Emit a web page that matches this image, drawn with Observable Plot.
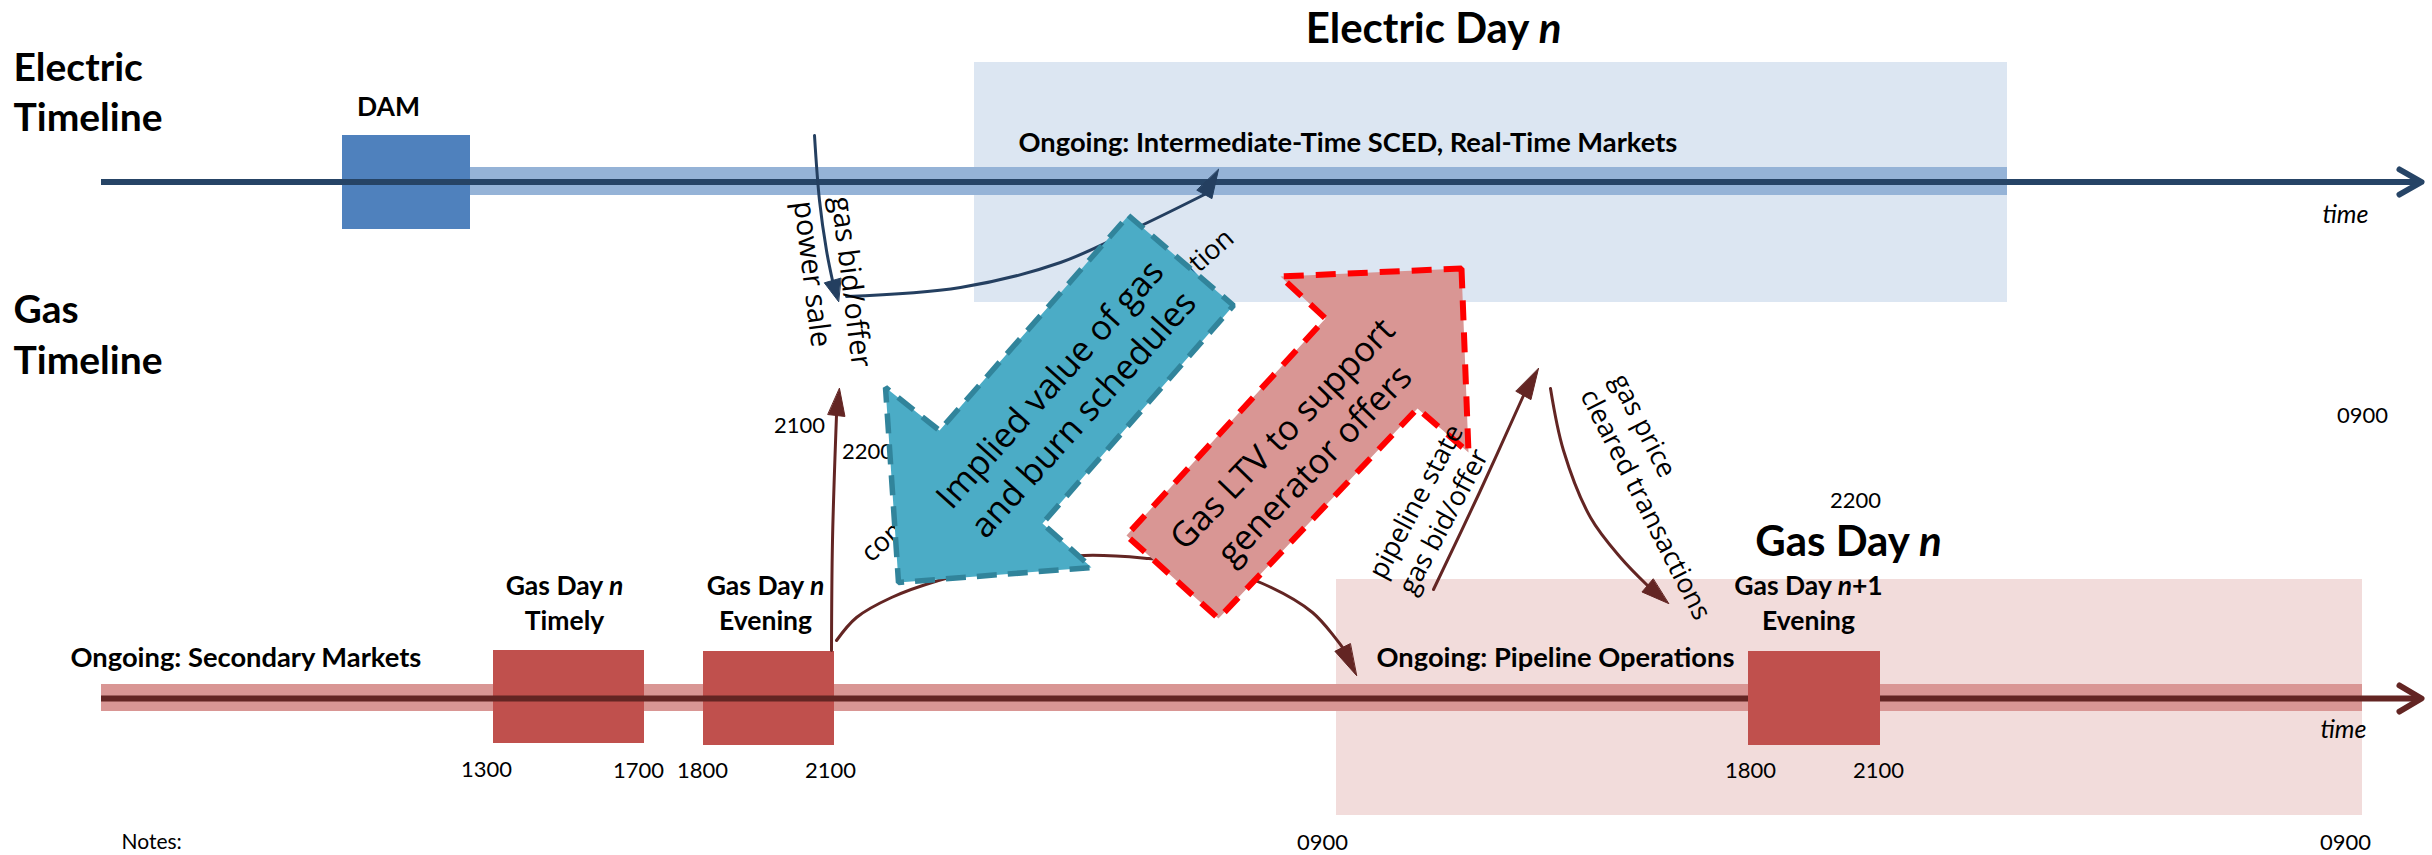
<!DOCTYPE html>
<html><head><meta charset="utf-8">
<script src="https://cdn.jsdelivr.net/npm/d3@7"></script>
<script src="https://cdn.jsdelivr.net/npm/@observablehq/plot@0.6"></script>
<style>html,body{margin:0;padding:0;background:#fff;} #chart svg{display:block}</style>
</head><body><div id="chart"></div>
<script>
// ---- data (diagram units) ----
const dayPanels = [
  {day: "electric", x1: 974, x2: 2007, y1: 62, y2: 302},
  {day: "gas", x1: 1336, x2: 2362, y1: 579, y2: 815}
];
const ongoingBands = [
  {day: "electric", x1: 470, x2: 2007, y1: 167, y2: 195},
  {day: "gas", x1: 101, x2: 2362, y1: 684, y2: 711}
];
const timelineRuns = [
  {day: "electric", x1: 101, x2: 2417, y: 181.5},
  {day: "gas", x1: 101, x2: 2417, y: 698}
];
const timelineHeads = [
  {day: "electric", x: 2399, y: 169}, {day: "electric", x: 2421, y: 181.5}, {day: "electric", x: 2399, y: 194},
  {day: "gas", x: 2399, y: 685}, {day: "gas", x: 2421, y: 698}, {day: "gas", x: 2399, y: 711}
];
const marketWindows = [
  {name: "DAM", day: "electric", x1: 342, x2: 470, y1: 135, y2: 229},
  {name: "Gas Day n Timely", day: "gas", x1: 493, x2: 644, y1: 650, y2: 743},
  {name: "Gas Day n Evening", day: "gas", x1: 703, x2: 834, y1: 651, y2: 745}
];
const nextDayWindows = [
  {name: "Gas Day n+1 Evening", day: "gas", x1: 1748, x2: 1880, y1: 651, y2: 745}
];
const sideTitles = [
  {text: "Electric", x: 13, y: 80}, {text: "Timeline", x: 13, y: 130},
  {text: "Gas", x: 13, y: 322}, {text: "Timeline", x: 13, y: 373}
];
const dayTitles = [
  {text: "Electric Day _n_", x: 1433, y: 42},
  {text: "Gas Day _n_", x: 1848, y: 555}
];
const windowLabels = [
  {text: "DAM", x: 388, y: 115},
  {text: "Gas Day _n_\nTimely", x: 564, y: 629},
  {text: "Gas Day _n_\nEvening", x: 765, y: 629},
  {text: "Gas Day _n_+1\nEvening", x: 1808, y: 629}
];
const ongoingLabels = [
  {text: "Ongoing: Intermediate-Time SCED, Real-Time Markets", x: 1018, y: 151},
  {text: "Ongoing: Secondary Markets", x: 70, y: 666},
  {text: "Ongoing: Pipeline Operations", x: 1376, y: 666}
];
const hourTicks = [
  {text: "1300", x: 486, y: 776}, {text: "1700", x: 638, y: 777},
  {text: "1800", x: 702, y: 777}, {text: "2100", x: 830, y: 777},
  {text: "1800", x: 1750, y: 777}, {text: "2100", x: 1878, y: 777},
  {text: "2100", x: 799, y: 432}, {text: "2200", x: 867, y: 458},
  {text: "2200", x: 1855, y: 507}, {text: "0900", x: 2362, y: 422},
  {text: "0900", x: 1322, y: 849}, {text: "0900", x: 2345, y: 849}
];
const axisNames = [
  {text: "time", x: 2345, y: 222},
  {text: "time", x: 2343, y: 737}
];
const notes = [{text: "Notes:", x: 121, y: 848}];
const bidOfferLabels = [
  {text: "gas bid/offer\npower sale", x: 824, y: 198, angle: 83}
];
const flowLabels = [
  {text: "pipeline state\ngas bid/offer", x: 1389, y: 583, angle: -62},
  {text: "gas price\ncleared transactions", x: 1604, y: 382, angle: 63}
];
const hiddenFlowLabels = [
  {text: "commitment and dispatch information", x: 1047, y: 395, angle: -41.5}
];
const flowArrows = [
  {id: "bidoffer", day: "electric", pts: [[814, 135], [819, 200], [826, 250], [832, 280]], tip: [838, 301]},
  {id: "dispatch", day: "electric", pts: [[846, 296], [960, 287], [1060, 262], [1141, 225], [1204, 194]], tip: [1218, 169]},
  {id: "evening", day: "gas", pts: [[831, 650], [832, 540], [836, 415]], tip: [839, 388]},
  {id: "nomination", day: "gas", pts: [[836, 640], [856, 617], [891, 597], [938, 580], [1000, 565], [1084, 555], [1148, 558], [1210, 566], [1262, 583], [1312, 612], [1342, 647]], tip: [1356, 675]},
  {id: "pipeline", day: "gas", pts: [[1433, 589], [1479, 492], [1523, 395]], tip: [1538, 368]},
  {id: "price", day: "gas", pts: [[1550, 388], [1563, 450], [1590, 517], [1620, 557], [1647, 585]], tip: [1668, 603]}
];
const impliedValueArrow = [[1128, 215], [1233, 305], [1042, 523], [1091, 567], [898, 582], [885, 387], [939, 430]];
const gasLtvArrow = [[1461, 268], [1468, 452], [1417, 408], [1218, 618], [1126, 535], [1325, 318], [1280, 276]];
const bigArrowLabels = [
  {text: "Implied value of gas\nand burn schedules", x: 1064, y: 397, angle: -48},
  {text: "Gas LTV to support\ngenerator offers", x: 1296, y: 447, angle: -46}
];

// ---- styles ----
const C = {
  elecPanel: "#DCE6F2", gasPanel: "#F2DCDB",
  elecBand: "#95B3D7", gasBand: "#D99694",
  elecLine: "#264466", gasLine: "#632523",
  elecBox: "#4F81BD", gasBox: "#C0504D",
  elecArrow: "#243F60", gasArrow: "#632523"
};
const BOLD = "Lato, 'Open Sans', sans-serif";
const REG = "'Open Sans', 'Noto Sans', sans-serif";

const byDay = (d, e, g) => d.day === "electric" ? e : g;

// shafts and heads
const shaftPts = flowArrows.flatMap(a => a.pts.map(([x, y]) => ({id: a.id, day: a.day, x, y})));
const headPts = flowArrows.flatMap(a => {
  const [bx, by] = a.pts[a.pts.length - 1];
  const [tx, ty] = a.tip;
  const len = Math.hypot(tx - bx, ty - by);
  const px = -(ty - by) / len, py = (tx - bx) / len, hw = 8.5;
  return [
    {id: a.id, day: a.day, x: tx, y: ty},
    {id: a.id, day: a.day, x: bx + px * hw, y: by + py * hw},
    {id: a.id, day: a.day, x: bx - px * hw, y: by - py * hw}
  ];
});
const poly = (pts) => pts.map(([x, y]) => ({x, y}));

const chart = Plot.plot({
  width: 2432, height: 855, margin: 0,
  x: {domain: [0, 2432], range: [0, 2432], axis: null},
  y: {domain: [0, 855], range: [0, 855], axis: null},
  style: {background: "#ffffff"},
  marks: [
    Plot.rect(dayPanels, {x1: "x1", x2: "x2", y1: "y1", y2: "y2", fill: d => byDay(d, C.elecPanel, C.gasPanel)}),
    Plot.rect(ongoingBands, {x1: "x1", x2: "x2", y1: "y1", y2: "y2", fill: d => byDay(d, C.elecBand, C.gasBand)}),
    Plot.rect(marketWindows, {x1: "x1", x2: "x2", y1: "y1", y2: "y2", fill: d => byDay(d, C.elecBox, C.gasBox)}),
    Plot.ruleY(timelineRuns, {y: "y", x1: "x1", x2: "x2", stroke: d => byDay(d, C.elecLine, C.gasLine), strokeWidth: 6}),
    Plot.line(timelineHeads.filter(d => d.day === "electric"), {x: "x", y: "y", stroke: C.elecLine, strokeWidth: 6, strokeLinecap: "round", strokeLinejoin: "round"}),
    Plot.line(timelineHeads.filter(d => d.day === "gas"), {x: "x", y: "y", stroke: C.gasLine, strokeWidth: 6, strokeLinecap: "round", strokeLinejoin: "round"}),
    Plot.rect(nextDayWindows, {x1: "x1", x2: "x2", y1: "y1", y2: "y2", fill: C.gasBox}),

    // texts
    Plot.text(sideTitles, {x: "x", y: "y", text: "text", textAnchor: "start", lineAnchor: "bottom", fontFamily: BOLD, fontWeight: "bold", fontSize: 39, fill: "#000"}),
    Plot.text(dayTitles, {x: "x", y: "y", text: "text", textAnchor: "middle", lineAnchor: "bottom", fontFamily: BOLD, fontWeight: "bold", fontSize: 42, fill: "#000"}),
    Plot.text(windowLabels, {x: "x", y: "y", text: "text", textAnchor: "middle", lineAnchor: "bottom", lineHeight: 1.3, fontFamily: BOLD, fontWeight: "bold", fontSize: 26.5, fill: "#000"}),
    Plot.text(ongoingLabels, {x: "x", y: "y", text: "text", textAnchor: "start", lineAnchor: "bottom", fontFamily: BOLD, fontWeight: "bold", fontSize: 27.3, fill: "#000"}),
    Plot.text(hourTicks, {x: "x", y: "y", text: "text", textAnchor: "middle", lineAnchor: "bottom", fontFamily: BOLD, fontSize: 22, fill: "#000"}),
    Plot.text(axisNames, {x: "x", y: "y", text: "text", textAnchor: "middle", lineAnchor: "bottom", fontFamily: BOLD, fontStyle: "italic", fontSize: 25, fill: "#000"}),
    Plot.text(notes, {x: "x", y: "y", text: "text", textAnchor: "start", lineAnchor: "bottom", fontFamily: BOLD, fontSize: 21, fill: "#000"}),
    Plot.text(hiddenFlowLabels, {x: "x", y: "y", text: "text", rotate: "angle", textAnchor: "middle", lineAnchor: "middle", fontFamily: REG, fontSize: 27, fill: "#000"}),

    // flow arrows
    Plot.line(shaftPts.filter(d => d.day === "electric"), {x: "x", y: "y", z: "id", curve: "catmull-rom", stroke: C.elecArrow, strokeWidth: 3}),
    Plot.line(shaftPts.filter(d => d.day === "gas"), {x: "x", y: "y", z: "id", curve: "catmull-rom", stroke: C.gasArrow, strokeWidth: 3}),
    Plot.line(headPts.filter(d => d.day === "electric"), {x: "x", y: "y", z: "id", curve: "linear-closed", fill: C.elecArrow, stroke: C.elecArrow, strokeWidth: 1}),
    Plot.line(headPts.filter(d => d.day === "gas"), {x: "x", y: "y", z: "id", curve: "linear-closed", fill: C.gasArrow, stroke: C.gasArrow, strokeWidth: 1}),

    // big arrows
    Plot.line(poly(impliedValueArrow), {x: "x", y: "y", curve: "linear-closed", fill: "#4BACC6", stroke: "#31849B", strokeWidth: 5.5, strokeDasharray: "20,11", strokeLinecap: "butt", strokeLinejoin: "miter"}),
    Plot.line(poly(gasLtvArrow), {x: "x", y: "y", curve: "linear-closed", fill: "#D99694", stroke: "#FF0000", strokeWidth: 6, strokeDasharray: "20,12", strokeLinecap: "butt", strokeLinejoin: "miter"}),
    Plot.text(bigArrowLabels, {x: "x", y: "y", text: "text", rotate: "angle", textAnchor: "middle", lineAnchor: "middle", lineHeight: 1.3, fontFamily: REG, fontSize: 34.5, fill: "#000"}),
    Plot.text(bidOfferLabels, {x: "x", y: "y", text: "text", rotate: "angle", textAnchor: "start", lineAnchor: "middle", lineHeight: 1.3, fontFamily: REG, fontSize: 29, fill: "#000"}),
    Plot.text(flowLabels, {x: "x", y: "y", text: "text", rotate: "angle", textAnchor: "start", lineAnchor: "middle", lineHeight: 1.25, fontFamily: REG, fontSize: 27, fill: "#000"})
  ]
});

// italic markers _n_
const NS = "http://www.w3.org/2000/svg";
chart.querySelectorAll("text, tspan").forEach(el => {
  if (el.children.length) return;
  const s = el.textContent;
  if (!s.includes("_")) return;
  el.textContent = "";
  s.split(/(_[^_]+_)/).forEach(part => {
    if (!part) return;
    if (part.length > 2 && part.startsWith("_") && part.endsWith("_")) {
      const t = document.createElementNS(NS, "tspan");
      t.setAttribute("font-style", "italic");
      t.textContent = part.slice(1, -1);
      el.appendChild(t);
    } else el.appendChild(document.createTextNode(part));
  });
});
document.getElementById("chart").appendChild(chart);
</script></body></html>
